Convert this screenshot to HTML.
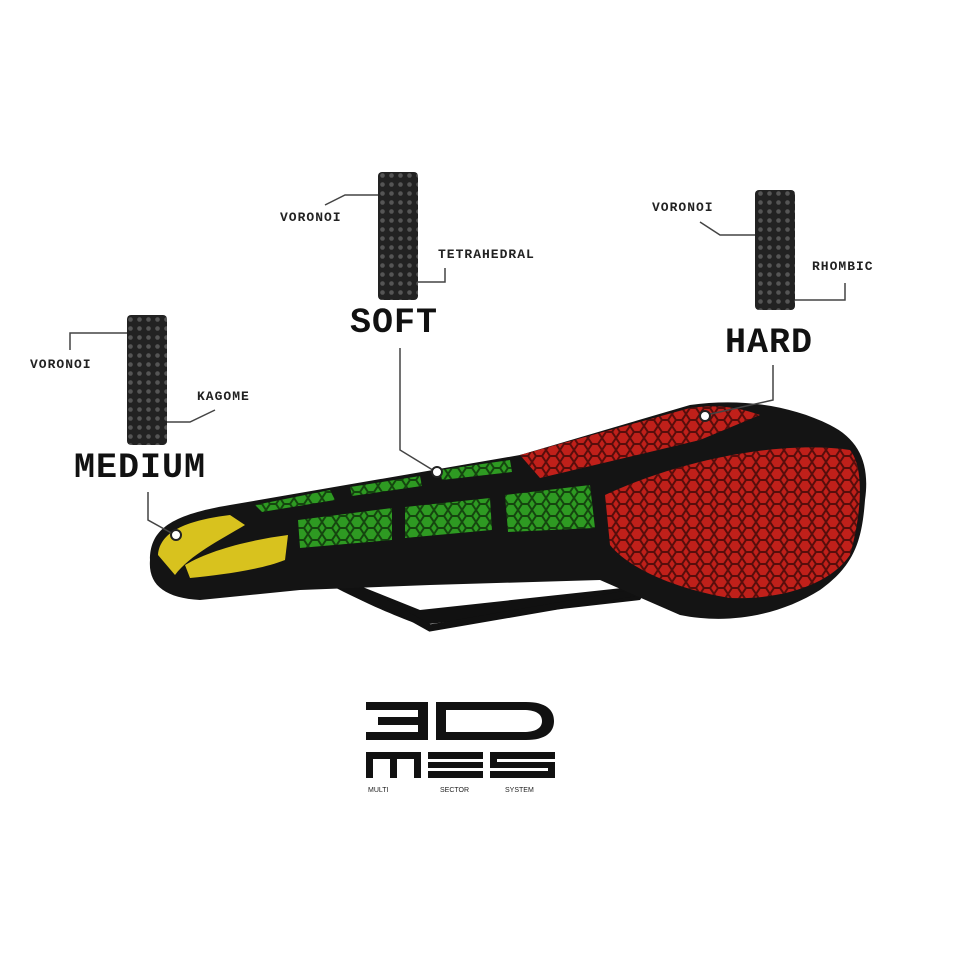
<!DOCTYPE html>
<html><head><meta charset="utf-8"><style>
html,body{margin:0;padding:0;background:#fff;}
body{width:956px;height:956px;position:relative;overflow:hidden;font-family:"Liberation Mono","DejaVu Sans Mono",monospace;}
.s{position:absolute;font-size:13px;font-weight:bold;color:#222;letter-spacing:1px;}
.b{position:absolute;font-size:35px;font-weight:bold;color:#111;letter-spacing:1px;}
</style></head><body>
<svg width="956" height="956" style="position:absolute;left:0;top:0">
<defs>
<pattern id="cell" width="14" height="12" patternUnits="userSpaceOnUse">
<path d="M0 6 L4 0 L10 0 L14 6 L10 12 L4 12 Z" fill="none" stroke="#000" stroke-width="2" opacity=".55"/>
</pattern>
<pattern id="cyl" width="9" height="9" patternUnits="userSpaceOnUse">
<rect width="9" height="9" fill="#222"/><circle cx="4.5" cy="4.5" r="2.3" fill="#555"/>
</pattern>
</defs>
<path d="M330 585 C360 600 380 610 420 625 L640 600 L650 585 L420 610 L345 580 Z" fill="#111"/>
<path d="M380 600 L430 628 L650 590" fill="none" stroke="#111" stroke-width="7"/>
<path d="M150 560 C150 530 170 515 230 505 L520 455 L690 405 C740 398 790 405 830 425 C860 440 870 465 865 500 C862 540 855 565 820 590 C780 615 730 625 680 615 L600 580 L430 585 L300 590 L200 600 C165 598 148 585 150 560 Z" fill="#141414"/>
<path d="M520 455 L690 408 C720 404 740 408 760 415 L700 440 L540 478 Z" fill="#c0201a"/>
<path d="M520 455 L690 408 C720 404 740 408 760 415 L700 440 L540 478 Z" fill="url(#cell)"/>
<path d="M605 495 C680 460 780 440 850 450 C866 470 860 520 850 555 C830 585 780 600 730 598 C680 590 630 570 610 545 Z" fill="#c0201a"/>
<path d="M605 495 C680 460 780 440 850 450 C866 470 860 520 850 555 C830 585 780 600 730 598 C680 590 630 570 610 545 Z" fill="url(#cell)"/>
<g id="gr">
<path d="M255 505 L330 490 L335 500 L262 512 Z"/>
<path d="M350 487 L420 476 L422 486 L352 496 Z"/>
<path d="M440 470 L510 460 L512 472 L442 480 Z"/>
<path d="M298 520 L392 508 L392 540 L300 548 Z"/>
<path d="M405 507 L490 498 L492 530 L405 538 Z"/>
<path d="M505 495 L590 485 L595 528 L508 532 Z"/>
</g>
<g fill="#2e9a22">
<path d="M255 505 L330 490 L335 500 L262 512 Z"/>
<path d="M350 487 L420 476 L422 486 L352 496 Z"/>
<path d="M440 470 L510 460 L512 472 L442 480 Z"/>
<path d="M298 520 L392 508 L392 540 L300 548 Z"/>
<path d="M405 507 L490 498 L492 530 L405 538 Z"/>
<path d="M505 495 L590 485 L595 528 L508 532 Z"/>
</g>
<g fill="url(#cell)">
<path d="M255 505 L330 490 L335 500 L262 512 Z"/>
<path d="M350 487 L420 476 L422 486 L352 496 Z"/>
<path d="M440 470 L510 460 L512 472 L442 480 Z"/>
<path d="M298 520 L392 508 L392 540 L300 548 Z"/>
<path d="M405 507 L490 498 L492 530 L405 538 Z"/>
<path d="M505 495 L590 485 L595 528 L508 532 Z"/>
</g>
<path d="M158 555 C160 530 190 520 230 515 L245 525 C220 540 190 555 175 575 Z" fill="#d8c21e"/>
<path d="M185 565 C210 550 250 540 288 535 L285 560 C260 570 220 575 190 578 Z" fill="#d8c21e"/>
<rect x="127" y="315" width="40" height="130" rx="4" fill="url(#cyl)"/>
<rect x="378" y="172" width="40" height="128" rx="4" fill="url(#cyl)"/>
<rect x="755" y="190" width="40" height="120" rx="4" fill="url(#cyl)"/>
<g fill="none" stroke="#444" stroke-width="1.5">
<path d="M70 350 L70 333 L127 333"/>
<path d="M167 422 L190 422 L215 410"/>
<path d="M325 205 L345 195 L378 195"/>
<path d="M418 282 L445 282 L445 268"/>
<path d="M700 222 L720 235 L755 235"/>
<path d="M795 300 L845 300 L845 283"/>
<path d="M148 492 L148 520 L175 535"/>
<path d="M400 348 L400 450 L436 472"/>
<path d="M773 365 L773 400 L706 415"/>
</g>
<g fill="#fff" stroke="#222" stroke-width="2">
<circle cx="176" cy="535" r="5"/><circle cx="437" cy="472" r="5"/><circle cx="705" cy="416" r="5"/>
</g>
<g fill="#111">
<path d="M366 702 h62 v38 h-62 v-8 h52 v-7 h-40 v-8 h40 v-7 h-52 z"/>
<path d="M436 702 h90 c20 0 28 8 28 19 c0 11 -8 19 -28 19 h-90 z M446 710 v22 h78 c10 0 18 -3 18 -11 c0 -8 -8 -11 -18 -11 z"/>
<rect x="366" y="752" width="55" height="7"/><rect x="366" y="752" width="7" height="26"/><rect x="390" y="752" width="7" height="26"/><rect x="414" y="752" width="7" height="26"/>
<rect x="428" y="752" width="55" height="7"/><rect x="428" y="762" width="55" height="6"/><rect x="428" y="771" width="55" height="7"/>
<rect x="490" y="752" width="65" height="7"/><rect x="490" y="752" width="7" height="15"/><rect x="490" y="762" width="65" height="6"/><rect x="548" y="762" width="7" height="16"/><rect x="490" y="771" width="65" height="7"/>
</g>
<g font-family="Liberation Sans,sans-serif" font-size="7" fill="#222">
<text x="368" y="792">MULTI</text><text x="440" y="792">SECTOR</text><text x="505" y="792">SYSTEM</text>
</g>
</svg>
<div class="s" style="left:30px;top:357px">VORONOI</div>
<div class="s" style="left:197px;top:389px">KAGOME</div>
<div class="b" style="left:74px;top:448px">MEDIUM</div>
<div class="s" style="left:280px;top:210px">VORONOI</div>
<div class="s" style="left:438px;top:247px">TETRAHEDRAL</div>
<div class="b" style="left:350px;top:303px">SOFT</div>
<div class="s" style="left:652px;top:200px">VORONOI</div>
<div class="s" style="left:812px;top:259px">RHOMBIC</div>
<div class="b" style="left:725px;top:323px">HARD</div>
</body></html>
